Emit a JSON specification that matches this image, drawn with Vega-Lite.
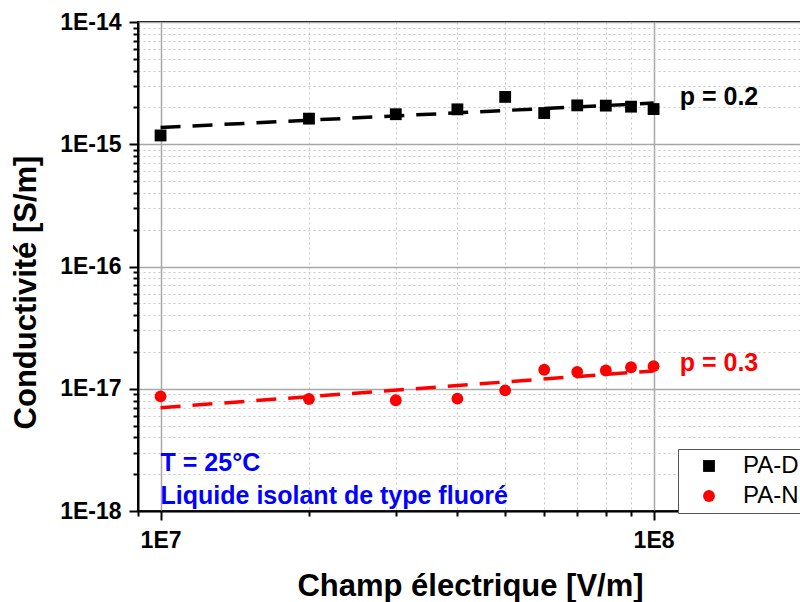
{
  "$schema": "https://vega.github.io/schema/vega-lite/v6.json",
  "width": 664,
  "height": 489,
  "autosize": "none",
  "padding": {"left": 138, "top": 22, "right": 0, "bottom": 91},
  "background": "white",
  "config": {"view": {"stroke": "black", "strokeWidth": 2}, "font": "Liberation Sans"},
  "datasets": {
    "points": [
      {"series": "PA-D", "E": 1e7, "sigma": 1.18e-15},
      {"series": "PA-D", "E": 2e7, "sigma": 1.62e-15},
      {"series": "PA-D", "E": 3e7, "sigma": 1.76e-15},
      {"series": "PA-D", "E": 4e7, "sigma": 1.93e-15},
      {"series": "PA-D", "E": 5e7, "sigma": 2.44e-15},
      {"series": "PA-D", "E": 6e7, "sigma": 1.80e-15},
      {"series": "PA-D", "E": 7e7, "sigma": 2.08e-15},
      {"series": "PA-D", "E": 8e7, "sigma": 2.07e-15},
      {"series": "PA-D", "E": 9e7, "sigma": 2.03e-15},
      {"series": "PA-D", "E": 1e8, "sigma": 1.94e-15},
      {"series": "PA-N", "E": 1e7, "sigma": 8.67e-18},
      {"series": "PA-N", "E": 2e7, "sigma": 8.24e-18},
      {"series": "PA-N", "E": 3e7, "sigma": 8.05e-18},
      {"series": "PA-N", "E": 4e7, "sigma": 8.3e-18},
      {"series": "PA-N", "E": 5e7, "sigma": 9.7e-18},
      {"series": "PA-N", "E": 6e7, "sigma": 1.43e-17},
      {"series": "PA-N", "E": 7e7, "sigma": 1.37e-17},
      {"series": "PA-N", "E": 8e7, "sigma": 1.41e-17},
      {"series": "PA-N", "E": 9e7, "sigma": 1.50e-17},
      {"series": "PA-N", "E": 1e8, "sigma": 1.53e-17}
    ],
    "fits": [
      {"series": "PA-D", "E": 1e7, "sigma": 1.37e-15},
      {"series": "PA-D", "E": 1e8, "sigma": 2.17e-15},
      {"series": "PA-N", "E": 1e7, "sigma": 7.0e-18},
      {"series": "PA-N", "E": 1e8, "sigma": 1.40e-17}
    ],
    "notes": [
      {"kind": "pD", "label": "p = 0.2", "E": 1.13e8, "sigma": 2.08e-15},
      {"kind": "pN", "label": "p = 0.3", "E": 1.13e8, "sigma": 1.40e-17},
      {"kind": "info", "label": "T = 25°C", "E": 1e7, "sigma": 2.12e-18},
      {"kind": "info", "label": "Liquide isolant de type fluoré", "E": 1e7, "sigma": 1.135e-18}
    ]
  },
  "layer": [
    {
      "data": {"name": "fits"},
      "transform": [{"filter": "datum.series === 'PA-D'"}],
      "mark": {"type": "line", "color": "black", "strokeWidth": 3.5, "strokeDash": [20, 12]},
      "encoding": {
        "x": {
          "field": "E", "type": "quantitative",
          "scale": {"type": "log", "domain": [9e6, 2e8], "nice": false},
          "axis": {
            "values": [9e6, 1e7, 2e7, 3e7, 4e7, 5e7, 6e7, 7e7, 8e7, 9e7, 1e8, 2e8],
            "labelExpr": "abs(log(datum.value)/LN10 - round(log(datum.value)/LN10)) < 0.01 ? '1E' + round(log(datum.value)/LN10) : ''",
            "labelFont": "Liberation Sans", "labelFontSize": 23, "labelFontWeight": "bold", "labelColor": "black",
            "labelOverlap": false, "labelFlush": false, "labelBound": false,
            "labelBaseline": "alphabetic", "labelPadding": 27,
            "tickColor": "black", "tickWidth": 2,
            "tickSize": {"condition": {"test": "abs(log(datum.value)/LN10 - round(log(datum.value)/LN10)) < 0.01", "value": 9}, "value": 5},
            "domainColor": "black", "domainWidth": 2,
            "grid": true,
            "gridColor": {"condition": {"test": "abs(log(datum.value)/LN10 - round(log(datum.value)/LN10)) < 0.01", "value": "#a8a8a8"}, "value": "#c8c8c8"},
            "gridDash": {"condition": {"test": "abs(log(datum.value)/LN10 - round(log(datum.value)/LN10)) < 0.01", "value": []}, "value": [2, 3]},
            "gridWidth": {"condition": {"test": "abs(log(datum.value)/LN10 - round(log(datum.value)/LN10)) < 0.01", "value": 1.5}, "value": 1},
            "title": "Champ électrique [V/m]",
            "titleFont": "Liberation Sans", "titleFontSize": 31, "titleFontWeight": "bold", "titleColor": "black",
            "titleX": 332, "titleY": 84, "titleBaseline": "alphabetic"
          }
        },
        "y": {
          "field": "sigma", "type": "quantitative",
          "scale": {"type": "log", "domain": [1e-18, 1e-14], "nice": false},
          "axis": {
            "values": [1e-18, 2e-18, 3e-18, 4e-18, 5e-18, 6e-18, 7e-18, 8e-18, 9e-18,
                       1e-17, 2e-17, 3e-17, 4e-17, 5e-17, 6e-17, 7e-17, 8e-17, 9e-17,
                       1e-16, 2e-16, 3e-16, 4e-16, 5e-16, 6e-16, 7e-16, 8e-16, 9e-16,
                       1e-15, 2e-15, 3e-15, 4e-15, 5e-15, 6e-15, 7e-15, 8e-15, 9e-15, 1e-14],
            "labelExpr": "abs(log(datum.value)/LN10 - round(log(datum.value)/LN10)) < 0.01 ? '1E' + round(log(datum.value)/LN10) : ''",
            "labelFont": "Liberation Sans", "labelFontSize": 23, "labelFontWeight": "bold", "labelColor": "black",
            "labelOverlap": false, "labelFlush": false, "labelBound": false,
            "labelPadding": 8,
            "tickColor": "black", "tickWidth": 2,
            "tickSize": {"condition": {"test": "abs(log(datum.value)/LN10 - round(log(datum.value)/LN10)) < 0.01", "value": 9}, "value": 5},
            "domainColor": "black", "domainWidth": 2,
            "grid": true,
            "gridColor": {"condition": {"test": "abs(log(datum.value)/LN10 - round(log(datum.value)/LN10)) < 0.01", "value": "#a8a8a8"}, "value": "#c8c8c8"},
            "gridDash": {"condition": {"test": "abs(log(datum.value)/LN10 - round(log(datum.value)/LN10)) < 0.01", "value": []}, "value": [2, 3]},
            "gridWidth": {"condition": {"test": "abs(log(datum.value)/LN10 - round(log(datum.value)/LN10)) < 0.01", "value": 1.5}, "value": 1},
            "title": "Conductivité [S/m]",
            "titleFont": "Liberation Sans", "titleFontSize": 31, "titleFontWeight": "bold", "titleColor": "black",
            "titleX": -103, "titleY": 270, "titleBaseline": "alphabetic", "titleAngle": 270
          }
        }
      }
    },
    {
      "data": {"name": "fits"},
      "transform": [{"filter": "datum.series === 'PA-N'"}],
      "mark": {"type": "line", "color": "#ff0000", "strokeWidth": 3.5, "strokeDash": [20, 12]},
      "encoding": {
        "x": {"field": "E", "type": "quantitative"},
        "y": {"field": "sigma", "type": "quantitative"}
      }
    },
    {
      "data": {"name": "points"},
      "mark": {"type": "point", "filled": true, "opacity": 1, "size": 140},
      "encoding": {
        "x": {"field": "E", "type": "quantitative"},
        "y": {"field": "sigma", "type": "quantitative"},
        "shape": {
          "field": "series", "type": "nominal",
          "scale": {"domain": ["PA-D", "PA-N"], "range": ["square", "circle"]},
          "legend": {
            "orient": "none", "legendX": 540, "legendY": 427, "title": null,
            "labelFont": "Liberation Sans", "labelFontSize": 24, "labelColor": "black",
            "symbolSize": 140, "padding": 5, "strokeColor": "#555555", "fillColor": "white",
            "rowPadding": 6, "symbolOffset": 14, "labelOffset": 22, "symbolStrokeWidth": 0
          }
        },
        "color": {
          "field": "series", "type": "nominal",
          "scale": {"domain": ["PA-D", "PA-N"], "range": ["black", "#ff0000"]},
          "legend": {
            "orient": "none", "legendX": 540, "legendY": 427, "title": null,
            "labelFont": "Liberation Sans", "labelFontSize": 24, "labelColor": "black",
            "symbolSize": 140, "padding": 5, "strokeColor": "#555555", "fillColor": "white",
            "rowPadding": 6, "symbolOffset": 14, "labelOffset": 22, "symbolStrokeWidth": 0
          }
        }
      }
    },
    {
      "data": {"name": "notes"},
      "transform": [{"filter": "datum.kind === 'pD'"}],
      "mark": {"type": "text", "align": "left", "baseline": "alphabetic", "font": "Liberation Sans", "fontSize": 25, "fontWeight": "bold", "color": "black"},
      "encoding": {
        "x": {"field": "E", "type": "quantitative"},
        "y": {"field": "sigma", "type": "quantitative"},
        "text": {"field": "label"}
      }
    },
    {
      "data": {"name": "notes"},
      "transform": [{"filter": "datum.kind === 'pN'"}],
      "mark": {"type": "text", "align": "left", "baseline": "alphabetic", "font": "Liberation Sans", "fontSize": 25, "fontWeight": "bold", "color": "#ff0000"},
      "encoding": {
        "x": {"field": "E", "type": "quantitative"},
        "y": {"field": "sigma", "type": "quantitative"},
        "text": {"field": "label"}
      }
    },
    {
      "data": {"name": "notes"},
      "transform": [{"filter": "datum.kind === 'info'"}],
      "mark": {"type": "text", "align": "left", "baseline": "alphabetic", "font": "Liberation Sans", "fontSize": 25, "fontWeight": "bold", "color": "#0000ff"},
      "encoding": {
        "x": {"field": "E", "type": "quantitative"},
        "y": {"field": "sigma", "type": "quantitative"},
        "text": {"field": "label"}
      }
    }
  ]
}
